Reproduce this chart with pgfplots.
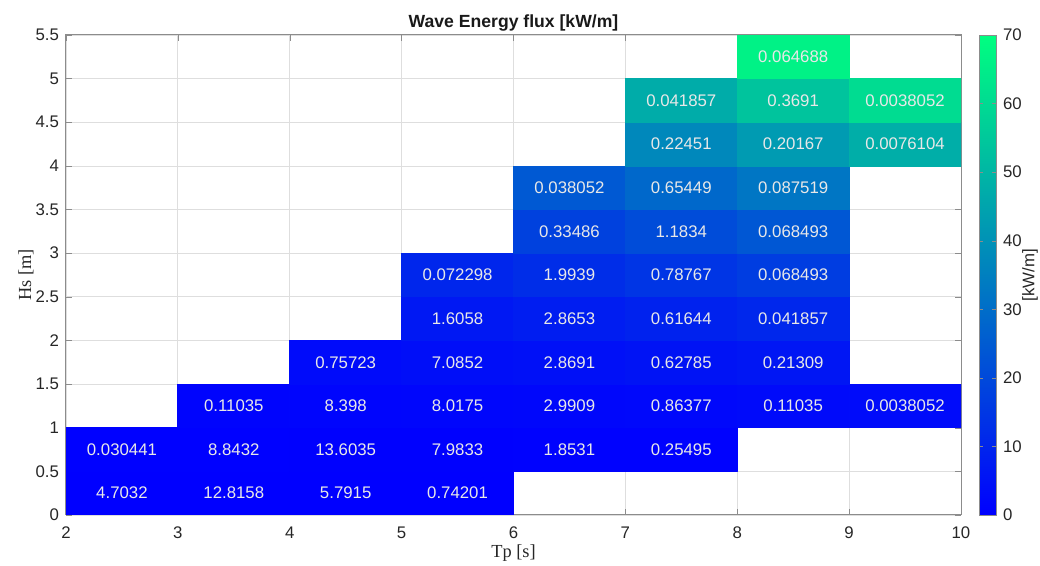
\documentclass[border=0pt]{standalone}
\usepackage{pgfplots}
\pgfplotsset{compat=1.18}
\usepackage{pgfplotstable}
\usepackage{fontspec}
\setmainfont{Liberation Sans}
\newfontfamily\seriffont{Liberation Serif}
\definecolor{axgray}{RGB}{38,38,38}
\definecolor{boxgray}{RGB}{140,140,140}
\definecolor{celltext}{RGB}{232,232,232}

\pgfplotstableread{
x y l
2.5 0.25 4.7032
3.5 0.25 12.8158
4.5 0.25 5.7915
5.5 0.25 0.74201
2.5 0.75 0.030441
3.5 0.75 8.8432
4.5 0.75 13.6035
5.5 0.75 7.9833
6.5 0.75 1.8531
7.5 0.75 0.25495
3.5 1.25 0.11035
4.5 1.25 8.398
5.5 1.25 8.0175
6.5 1.25 2.9909
7.5 1.25 0.86377
8.5 1.25 0.11035
9.5 1.25 0.0038052
4.5 1.75 0.75723
5.5 1.75 7.0852
6.5 1.75 2.8691
7.5 1.75 0.62785
8.5 1.75 0.21309
5.5 2.25 1.6058
6.5 2.25 2.8653
7.5 2.25 0.61644
8.5 2.25 0.041857
5.5 2.75 0.072298
6.5 2.75 1.9939
7.5 2.75 0.78767
8.5 2.75 0.068493
6.5 3.25 0.33486
7.5 3.25 1.1834
8.5 3.25 0.068493
6.5 3.75 0.038052
7.5 3.75 0.65449
8.5 3.75 0.087519
7.5 4.25 0.22451
8.5 4.25 0.20167
9.5 4.25 0.0076104
7.5 4.75 0.041857
8.5 4.75 0.3691
9.5 4.75 0.0038052
8.5 5.25 0.064688
}\labeltable

\begin{document}
\begin{tikzpicture}
\useasboundingbox (-33pt,-25.5pt) rectangle (487pt,257.5pt);
\begin{axis}[
  at={(0,0)}, anchor=south west,
  scale only axis, width=447.5pt, height=240pt,
  xmin=2, xmax=10, ymin=0, ymax=5.5,
  xtick={2,3,...,10}, ytick={0,0.5,...,5.5},
  grid=major, major grid style={black!13, line width=0.4pt},
  tick align=inside, major tick length=3pt,
  axis line style={boxgray, line width=0.5pt}, tick style={boxgray},
  /pgf/number format/assume math mode=true,
  ticklabel style={font=\fontsize{8.4}{10}\selectfont, text=axgray},
  xticklabel style={yshift=-2.4pt},
  xlabel={\seriffont Tp [s]}, ylabel={\seriffont Hs [m]},
  xlabel style={at={(axis description cs:0.5,-0.0896)}, anchor=base, font=\fontsize{9.2}{10}\selectfont, text=axgray},
  ylabel style={at={(axis description cs:-0.0447,0.5)}, anchor=center, font=\fontsize{9.2}{10}\selectfont, text=axgray},
  title={Wave Energy flux [kW/m]},
  every axis title shift=0pt,
  title style={at={(axis description cs:0.5,1.0146)}, anchor=base, font=\fontsize{8.8}{10}\selectfont\bfseries, text=black!90},
  colormap={winter}{rgb255=(0,0,255) rgb255=(0,255,128)},
  point meta min=0, point meta max=70,
  colorbar,
  colorbar style={
    at={(parent axis.north east)}, anchor=north west, xshift=0.5pt,
    width=8.5pt,
    ytick={0,10,...,70},
    /pgf/number format/assume math mode=true,
    tick align=inside, major tick length=2pt,
    axis line style={boxgray}, tick style={boxgray},
    yticklabel style={font=\fontsize{8.4}{10}\selectfont, text=axgray},
    ylabel={[kW/m]},
    ylabel style={at={(axis description cs:3.0,0.5)}, anchor=center, rotate=0, font=\fontsize{8.4}{10}\selectfont, text=axgray},
  },
]
\addplot[patch, patch type=rectangle, shader=flat, point meta=explicit] coordinates {
(2,0)[0] (3,0)[0] (3,0.5)[0] (2,0.5)[0]
(3,0)[0] (4,0)[0] (4,0.5)[0] (3,0.5)[0]
(4,0)[0] (5,0)[0] (5,0.5)[0] (4,0.5)[0]
(5,0)[0] (6,0)[0] (6,0.5)[0] (5,0.5)[0]
(2,0.5)[0.17] (3,0.5)[0.17] (3,1)[0.17] (2,1)[0.17]
(3,0.5)[0.25] (4,0.5)[0.25] (4,1)[0.25] (3,1)[0.25]
(4,0.5)[0.33] (5,0.5)[0.33] (5,1)[0.33] (4,1)[0.33]
(5,0.5)[0.41] (6,0.5)[0.41] (6,1)[0.41] (5,1)[0.41]
(6,0.5)[0.5] (7,0.5)[0.5] (7,1)[0.5] (6,1)[0.5]
(7,0.5)[0.58] (8,0.5)[0.58] (8,1)[0.58] (7,1)[0.58]
(3,1)[1.0] (4,1)[1.0] (4,1.5)[1.0] (3,1.5)[1.0]
(4,1)[1.3] (5,1)[1.3] (5,1.5)[1.3] (4,1.5)[1.3]
(5,1)[1.65] (6,1)[1.65] (6,1.5)[1.65] (5,1.5)[1.65]
(6,1)[2.0] (7,1)[2.0] (7,1.5)[2.0] (6,1.5)[2.0]
(7,1)[2.3] (8,1)[2.3] (8,1.5)[2.3] (7,1.5)[2.3]
(8,1)[2.6] (9,1)[2.6] (9,1.5)[2.6] (8,1.5)[2.6]
(9,1)[3.0] (10,1)[3.0] (10,1.5)[3.0] (9,1.5)[3.0]
(4,1.5)[3.0] (5,1.5)[3.0] (5,2)[3.0] (4,2)[3.0]
(5,1.5)[3.7] (6,1.5)[3.7] (6,2)[3.7] (5,2)[3.7]
(6,1.5)[4.5] (7,1.5)[4.5] (7,2)[4.5] (6,2)[4.5]
(7,1.5)[5.2] (8,1.5)[5.2] (8,2)[5.2] (7,2)[5.2]
(8,1.5)[5.9] (9,1.5)[5.9] (9,2)[5.9] (8,2)[5.9]
(5,2)[6.6] (6,2)[6.6] (6,2.5)[6.6] (5,2.5)[6.6]
(6,2)[7.9] (7,2)[7.9] (7,2.5)[7.9] (6,2.5)[7.9]
(7,2)[9.2] (8,2)[9.2] (8,2.5)[9.2] (7,2.5)[9.2]
(8,2)[10.6] (9,2)[10.6] (9,2.5)[10.6] (8,2.5)[10.6]
(5,2.5)[10.3] (6,2.5)[10.3] (6,3)[10.3] (5,3)[10.3]
(6,2.5)[12.4] (7,2.5)[12.4] (7,3)[12.4] (6,3)[12.4]
(7,2.5)[14.4] (8,2.5)[14.4] (8,3)[14.4] (7,3)[14.4]
(8,2.5)[16.5] (9,2.5)[16.5] (9,3)[16.5] (8,3)[16.5]
(6,3)[17.8] (7,3)[17.8] (7,3.5)[17.8] (6,3.5)[17.8]
(7,3)[20.8] (8,3)[20.8] (8,3.5)[20.8] (7,3.5)[20.8]
(8,3)[23.8] (9,3)[23.8] (9,3.5)[23.8] (8,3.5)[23.8]
(6,3.5)[24.3] (7,3.5)[24.3] (7,4)[24.3] (6,4)[24.3]
(7,3.5)[28.3] (8,3.5)[28.3] (8,4)[28.3] (7,4)[28.3]
(8,3.5)[32.3] (9,3.5)[32.3] (9,4)[32.3] (8,4)[32.3]
(7,4)[37.0] (8,4)[37.0] (8,4.5)[37.0] (7,4.5)[37.0]
(8,4)[42.2] (9,4)[42.2] (9,4.5)[42.2] (8,4.5)[42.2]
(9,4)[47.5] (10,4)[47.5] (10,4.5)[47.5] (9,4.5)[47.5]
(7,4.5)[46.8] (8,4.5)[46.8] (8,5)[46.8] (7,5)[46.8]
(8,4.5)[53.5] (9,4.5)[53.5] (9,5)[53.5] (8,5)[53.5]
(9,4.5)[60.1] (10,4.5)[60.1] (10,5)[60.1] (9,5)[60.1]
(8,5)[66] (9,5)[66] (9,5.5)[66] (8,5.5)[66]
};
\addplot[draw=none, mark=none, nodes near coords, point meta=explicit symbolic,
  nodes near coords align=center,
  every node near coord/.append style={font=\fontsize{8.4}{10}\selectfont, text=celltext, anchor=center}]
  table[x=x, y=y, meta=l] {\labeltable};
\end{axis}
\end{tikzpicture}
\end{document}
